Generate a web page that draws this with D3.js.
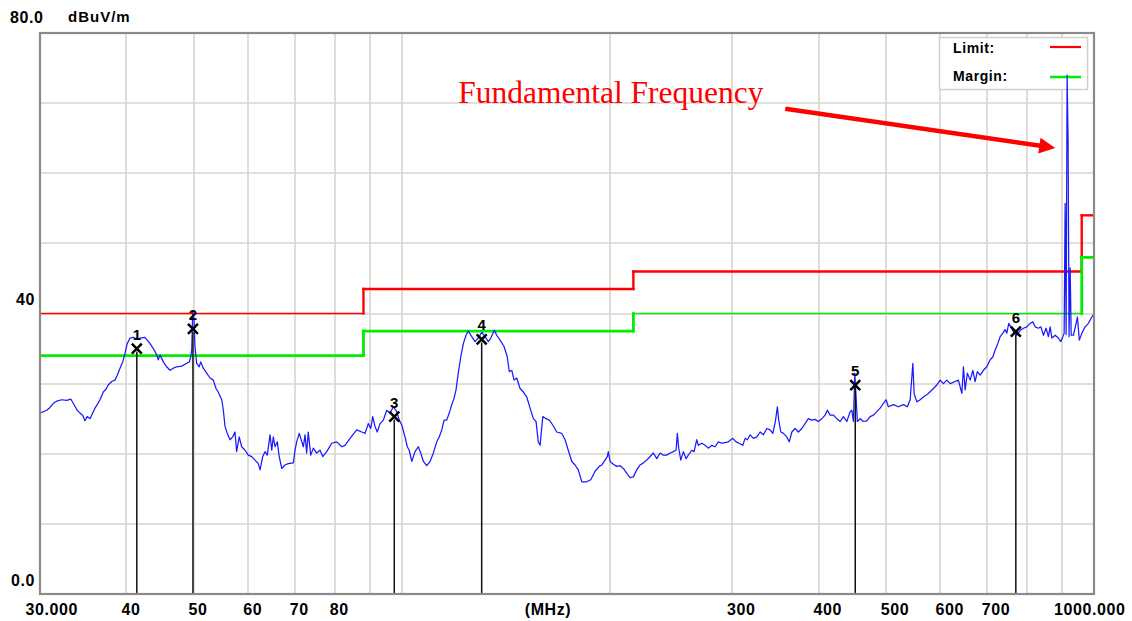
<!DOCTYPE html>
<html><head><meta charset="utf-8">
<script src="https://cdn.jsdelivr.net/npm/d3@7"></script>
<style>
html,body{margin:0;padding:0;background:#fff;}
svg{display:block;}
</style></head>
<body>
<svg id="chart" width="1132" height="621"></svg>
<script>
// ---------- DATA ----------
const traceFreq = [
30.00,30.67,31.02,31.36,31.71,32.25,32.78,33.23,33.51,33.95,
34.27,34.58,34.84,35.10,35.43,35.75,36.02,36.29,36.63,37.03,
37.36,37.64,38.08,38.50,38.79,39.15,39.50,39.80,40.10,40.48,
40.92,41.46,41.84,42.54,42.86,43.26,43.74,44.23,44.46,44.72,
45.22,45.72,46.24,46.75,47.27,48.07,48.87,49.30,49.53,49.70,
49.86,50.08,50.24,50.52,50.95,51.21,51.65,52.23,52.82,53.40,
53.88,54.28,54.92,55.21,55.52,55.94,56.45,56.96,57.39,57.71,
58.20,58.69,59.34,59.98,60.68,61.35,62.01,62.38,62.94,63.42,
63.90,64.49,64.86,65.20,65.57,66.06,66.49,67.05,67.78,68.52,
69.69,70.08,70.47,71.07,
72.05,72.45,72.85,73.23,73.84,74.48,75.32,76.17,76.85,77.87,
79.19,80.50,81.87,82.76,84.16,86.04,87.50,88.46,89.42,90.16,
90.76,91.45,92.14,93.00,94.02,95.07,96.14,97.20,98.29,99.12,
99.96,101.05,101.81,102.47,103.34,104.47,105.60,106.48,107.40,108.61,
109.83,111.04,112.28,113.23,114.19,115.06,116.08,117.06,118.05,118.95,
119.73,120.63,121.64,122.69,123.78,124.71,126.17,127.55,128.93,130.44,
131.87,133.30,134.41,136.02,137.09,138.63,140.48,142.01,142.93,144.14,
145.24,146.53,148.17,149.80,151.48,153.19,154.87,156.25,157.43,158.37,
159.80,161.54,163.28,165.20,167.39,170.23,172.09,173.95,175.99,177.91,
179.84,181.94,184.96,187.47,190.16,192.84,
194.46,196.59,198.07,198.72,199.91,202.11,204.37,206.67,208.95,211.29,
213.67,216.02,218.44,220.89,223.32,225.83,228.37,230.88,233.47,236.10,
238.69,241.37,244.08,246.77,248.96,250.02,251.16,252.93,255.12,257.39,
259.32,262.36,264.36,266.70,268.10,271.24,274.20,277.17,280.41,283.48,
286.55,289.90,293.07,296.24,300.70,303.98,307.26,310.87,313.24,315.60,
318.53,322.03,325.64,329.30,332.93,336.66,340.45,343.51,346.46,348.73,
350.32,352.78,355.84,359.82,362.87,365.94,369.94,373.94,378.32,382.45,
386.59,391.12,395.39,399.67,404.35,408.77,411.85,415.67,420.25,424.96,
429.74,434.46,439.33,444.28,446.80,449.16,451.24,453.16,455.09,459.31,
464.36,469.57,474.85,480.07,485.45,
490.92,496.32,500.73,504.50,513.11,521.57,530.47,537.46,542.45,546.07,
547.33,549.68,554.56,560.80,566.97,576.32,586.15,592.72,599.39,605.99,
612.78,619.67,630.00,636.82,644.27,647.69,651.32,656.23,662.31,668.28,
673.35,678.43,684.72,692.26,700.01,707.89,714.26,719.69,726.06,731.84,
738.43,744.04,748.18,753.06,758.36,764.92,773.50,782.20,790.80,799.67,
808.67,815.94,822.15,831.04,837.97,845.22,852.75,859.16,864.31,869.21,
878.72,888.23,895.64,901.60,905.47,908.45,911.43,914.40,917.39,920.36,
923.79,926.87,933.95,942.26,946.26,952.42,960.46,970.96,981.47,992.95,
1000.00
];
const traceLevel = [
25.8,26.2,26.6,27.2,27.5,27.7,27.6,27.8,27.2,26.2,
25.8,25.5,24.7,25.3,25.0,25.8,26.5,27.0,27.7,28.8,
29.2,29.8,30.3,30.5,31.2,32.2,33.1,34.3,35.7,36.5,
36.6,36.3,36.5,36.6,36.2,35.7,35.0,34.1,33.4,34.1,
33.1,32.4,31.9,32.2,32.4,32.5,32.9,33.1,33.8,34.8,
40.3,39.1,35.3,32.9,32.4,33.1,32.2,31.5,30.8,30.5,
29.3,28.8,27.7,26.2,23.9,22.9,22.0,22.4,23.1,20.3,
22.4,21.0,20.5,19.8,19.6,19.1,18.6,17.7,19.6,20.3,
19.8,22.7,20.5,22.4,21.0,21.7,19.6,17.9,18.4,18.6,
18.7,20.5,21.7,22.9,
21.0,22.7,20.1,23.1,19.8,20.8,20.1,20.5,19.6,20.3,
21.5,21.7,21.0,21.2,22.2,23.4,23.1,22.9,24.3,23.6,
25.3,23.9,23.1,24.3,24.8,26.2,25.8,26.7,26.0,24.8,
24.1,22.4,21.0,20.5,18.9,20.3,21.0,20.1,18.9,18.3,
18.9,20.1,21.7,22.4,23.4,24.8,24.8,25.8,27.0,27.9,
29.1,31.5,33.8,35.7,36.9,37.5,36.7,36.0,36.5,37.3,
36.7,36.0,36.5,37.6,36.9,36.2,35.3,33.8,31.7,31.9,
30.5,30.8,29.3,28.8,28.1,26.5,25.0,24.6,21.7,21.2,
25.3,25.0,24.8,24.1,23.1,22.9,22.0,20.5,18.9,18.4,
17.7,16.0,16.0,16.3,17.5,18.2,
18.4,19.1,19.6,20.3,18.9,18.5,18.2,18.3,17.9,17.2,
16.6,16.7,17.7,18.4,18.7,19.1,19.6,20.1,19.3,20.1,
19.8,19.8,20.1,20.3,20.5,22.9,20.8,19.1,20.3,19.3,
19.8,20.5,20.3,22.0,21.2,21.5,21.2,20.8,21.2,21.0,
21.7,21.5,21.6,21.7,22.2,21.7,21.5,21.2,22.2,22.0,
22.7,22.2,22.4,23.1,22.7,23.6,23.4,22.9,24.6,26.7,
24.8,23.1,22.9,22.4,21.7,23.1,23.6,23.1,23.6,24.3,
25.0,24.8,24.9,24.6,25.0,25.5,26.2,25.5,25.5,25.0,
24.6,25.3,24.6,26.0,26.2,24.6,31.5,28.1,24.6,25.0,
24.6,24.7,25.3,25.5,26.0,
26.5,27.2,27.7,26.7,27.0,26.7,27.0,26.7,27.7,31.5,
32.9,28.6,27.4,27.7,28.1,28.6,29.3,29.8,30.5,30.0,
30.5,30.0,30.3,30.5,28.6,32.4,29.1,31.5,30.5,31.9,
30.3,31.7,31.2,31.9,32.4,33.4,33.8,34.8,35.7,36.7,
37.2,37.7,37.2,38.6,38.1,37.4,36.9,37.6,37.9,38.1,
38.6,38.8,38.1,37.9,38.1,36.9,37.9,36.7,38.1,36.5,
36.9,36.5,36.0,36.7,37.2,55.7,37.0,74.0,64.7,36.7,
46.5,36.9,36.9,38.6,39.5,36.2,37.2,38.1,38.6,39.5,
40.0
];
const limitFreq   = [30, 88, 88, 216, 216, 960, 960, 1000];
const limitLevel  = [40, 40, 43.5, 43.5, 46, 46, 54, 54];
const marginFreq  = [30, 88, 88, 216, 216, 960, 960, 1000];
const marginLevel = [34, 34, 37.5, 37.5, 40, 40, 48, 48];
const markerLabel = ["1", "2", "3", "4", "5", "6"];
const markerFreq  = [41.4, 49.9, 97.5, 130.4, 451.9, 771.0];
const markerLevel = [35.0, 37.8, 25.3, 36.3, 29.8, 37.4];
const xTickValues = [30, 40, 50, 60, 70, 80, 300, 400, 500, 600, 700, 1000];
const xTickLabels = ["30.000", "40", "50", "60", "70", "80", "300", "400", "500", "600", "700", "1000.000"];
const yTickValues = [0, 40, 80];
const yTickLabels = ["0.0", "40", "80.0"];
const gridFreq  = [40, 50, 60, 70, 80, 90, 100, 200, 300, 400, 500, 600, 700, 800, 900];
const gridLevel = [10, 20, 30, 40, 50, 60, 70];
const legendNames = ["Limit:", "Margin:"];
const annotationText = "Fundamental Frequency";
const arrowFrom = [358, 69.2];
const arrowTo = [879, 63.6];
const textAnchorPoint = [120.6, 70.0];

// ---------- CHART ----------
const svg = d3.select("#chart");
const L = 40, R = 1094, T = 33, B = 594;
const X = d3.scaleLog().domain([30, 1000]).range([L, R]);
const Y = d3.scaleLinear().domain([0, 80]).range([B, T]);
const labelFont = "'Liberation Sans', Arial, sans-serif";

svg.append("rect").attr("x", 0).attr("y", 0).attr("width", 1132).attr("height", 621).attr("fill", "#fff");

// grid
const grid = svg.append("g").attr("stroke", "#d9d5cd").attr("stroke-width", 1.6);
grid.selectAll("line.v").data(gridFreq).join("line").attr("class", "v")
  .attr("x1", d => Math.round(X(d))).attr("x2", d => Math.round(X(d)))
  .attr("y1", T).attr("y2", B);
grid.selectAll("line.h").data(gridLevel).join("line").attr("class", "h")
  .attr("x1", L).attr("x2", R)
  .attr("y1", d => Math.round(Y(d))).attr("y2", d => Math.round(Y(d)));

// legend box
const lg = svg.append("g");
lg.append("rect").attr("x", 939.5).attr("y", 37.5).attr("width", 148).attr("height", 52)
  .attr("fill", "#fff").attr("stroke", "#d4d0c8").attr("stroke-width", 1.5);
const legendColors = ["#ff0000", "#00ee00"];
legendNames.forEach((n, i) => {
  lg.append("text").attr("x", 953).attr("y", 53 + i * 28).text(n)
    .attr("font-family", labelFont).attr("font-weight", "bold").attr("font-size", 14)
    .attr("letter-spacing", 0.6).attr("fill", "#000");
  lg.append("line").attr("x1", 1050).attr("x2", 1081).attr("y1", 47 + i * 30).attr("y2", 47 + i * 30)
    .attr("stroke", legendColors[i]).attr("stroke-width", i === 0 ? 2.2 : 2.6);
});

// clip
svg.append("clipPath").attr("id", "plotclip").append("rect")
  .attr("x", L).attr("y", T).attr("width", R - L).attr("height", B - T);

const plot = svg.append("g").attr("clip-path", "url(#plotclip)");

const lineGen = d3.line().x(d => X(d[0])).y(d => Y(d[1]));

// limit / margin drawn segment by segment (segments lying on the 40 dB grid row are thinner)
function drawStep(freqs, levels, color, wide, thin) {
  const pts = freqs.map((f, i) => [f, levels[i]]);
  const segs = d3.pairs(pts);
  plot.append("g").selectAll("path").data(segs).join("path")
    .attr("d", d => lineGen(d)).attr("fill", "none").attr("stroke", color)
    .attr("stroke-linecap", "square")
    .attr("stroke-width", d => (d[0][1] === 40 && d[1][1] === 40) ? thin : wide);
}
drawStep(limitFreq, limitLevel, "#ff0000", 2.4, 1.5);
drawStep(marginFreq, marginLevel, "#00ee00", 2.8, 1.6);

// trace
plot.append("path").datum(traceFreq.map((f, i) => [f, traceLevel[i]]))
  .attr("d", lineGen).attr("fill", "none").attr("stroke", "#1a1aff").attr("stroke-width", 1.25)
  .attr("stroke-linejoin", "round");

// markers
const mk = svg.append("g");
const markers = markerFreq.map((f, i) => ({ f, v: markerLevel[i], n: markerLabel[i] }));
mk.selectAll("line.stem").data(markers).join("line").attr("class", "stem")
  .attr("x1", d => X(d.f)).attr("x2", d => X(d.f))
  .attr("y1", d => Y(d.v) + 3).attr("y2", B)
  .attr("stroke", "#111").attr("stroke-width", 1.5);
mk.selectAll("path.cross").data(markers).join("path").attr("class", "cross")
  .attr("d", d => {
    const cx = X(d.f), cy = Y(d.v), s = 5;
    return `M${cx - s},${cy - s}L${cx + s},${cy + s}M${cx - s},${cy + s}L${cx + s},${cy - s}`;
  })
  .attr("stroke", "#000").attr("stroke-width", 2.5).attr("fill", "none");
mk.selectAll("text").data(markers).join("text")
  .attr("x", d => X(d.f)).attr("y", d => Y(d.v) - 9)
  .attr("text-anchor", "middle").text(d => d.n)
  .attr("font-family", labelFont).attr("font-weight", "bold").attr("font-size", 15).attr("fill", "#000");

// border
svg.append("rect").attr("x", L).attr("y", T).attr("width", R - L).attr("height", B - T)
  .attr("fill", "none").attr("stroke", "#8a8a8a").attr("stroke-width", 2.2);

// x axis
const xAxis = d3.axisBottom(X).tickValues(xTickValues)
  .tickFormat(d => xTickLabels[xTickValues.indexOf(d)]).tickSize(0);
const gx = svg.append("g").attr("transform", `translate(0,${B})`).call(xAxis);
gx.select(".domain").remove();
gx.attr("font-family", labelFont).attr("font-size", 16);
gx.selectAll("text").attr("y", 21).attr("dy", 0)
  .attr("font-weight", "bold").attr("fill", "#000").attr("letter-spacing", 0.6)
  .attr("text-anchor", d => d === 1000 ? "end" : "start")
  .attr("dx", d => d === 30 ? -15 : (d === 1000 ? 31 : -5.5));
svg.append("text").attr("x", 548).attr("y", B + 21).attr("text-anchor", "middle").text("(MHz)")
  .attr("font-family", labelFont).attr("font-size", 16).attr("font-weight", "bold")
  .attr("letter-spacing", 0.6).attr("fill", "#000");

// y axis
const yAxis = d3.axisLeft(Y).tickValues(yTickValues)
  .tickFormat(d => yTickLabels[yTickValues.indexOf(d)]).tickSize(0).tickPadding(0);
const gy = svg.append("g").attr("transform", "translate(35,0)").call(yAxis);
gy.select(".domain").remove();
gy.attr("font-family", labelFont).attr("font-size", 16);
gy.selectAll("text").attr("dy", d => d === 80 ? -11 : -9).attr("x", d => d === 80 ? -25 : 0)
  .attr("text-anchor", d => d === 80 ? "start" : "end")
  .attr("font-weight", "bold").attr("fill", "#000").attr("letter-spacing", 0.6);
svg.append("text").attr("x", 68).attr("y", Y(80) - 11).text("dBuV/m")
  .attr("font-family", labelFont).attr("font-size", 15).attr("font-weight", "bold")
  .attr("letter-spacing", 1).attr("fill", "#000");

// annotation
svg.append("text").attr("x", X(textAnchorPoint[0])).attr("y", Y(textAnchorPoint[1]))
  .text(annotationText).attr("font-family", "'Liberation Serif', 'Times New Roman', serif")
  .attr("font-size", 31.5).attr("fill", "#ff0000");
const ax0 = X(arrowFrom[0]), ay0 = Y(arrowFrom[1]), ax1 = X(arrowTo[0]), ay1 = Y(arrowTo[1]);
const ang = Math.atan2(ay1 - ay0, ax1 - ax0);
const hl = 16, hw = 8;
const bx = ax1 - hl * Math.cos(ang), by = ay1 - hl * Math.sin(ang);
svg.append("line").attr("x1", ax0).attr("y1", ay0).attr("x2", bx + Math.cos(ang)).attr("y2", by + Math.sin(ang))
  .attr("stroke", "#ff0000").attr("stroke-width", 4.5);
svg.append("path").attr("d",
  `M${ax1},${ay1}L${bx - hw * Math.sin(ang)},${by + hw * Math.cos(ang)}L${bx + hw * Math.sin(ang)},${by - hw * Math.cos(ang)}Z`)
  .attr("fill", "#ff0000");
</script>
</body></html>
